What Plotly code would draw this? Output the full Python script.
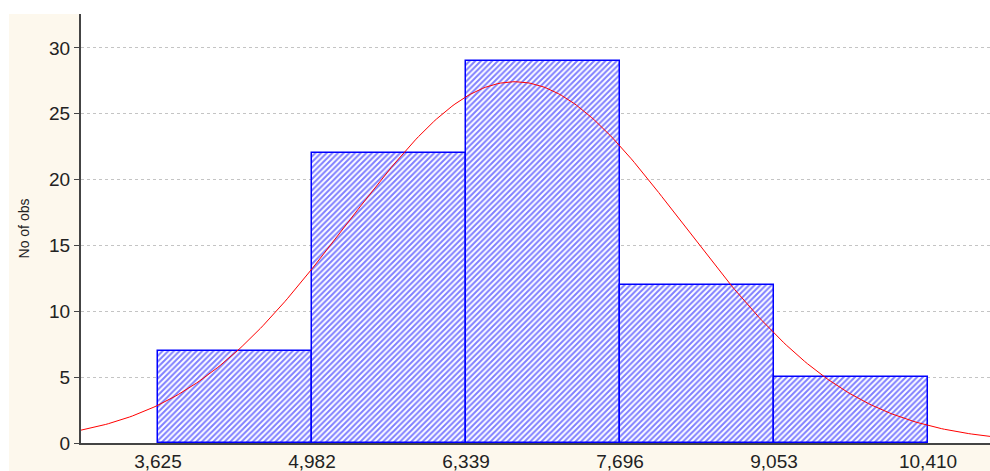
import numpy as np
import plotly.graph_objects as go

# Data
bin_edges = [3.625, 4.982, 6.339, 7.696, 9.053, 10.410]
counts = [7, 22, 29, 12, 5]
tick_labels = ["3,625", "4,982", "6,339", "7,696", "9,053", "10,410"]
# fitted normal curve parameters (expected counts)
fit_mean = 6.77
fit_sd = 1.48
n_obs = sum(counts)
bin_width = bin_edges[1] - bin_edges[0]

x_min, x_max = 2.947, 10.956

centers = [(bin_edges[i] + bin_edges[i + 1]) / 2 for i in range(len(counts))]

xs = np.linspace(x_min, x_max, 300)
ys = n_obs * bin_width / (fit_sd * np.sqrt(2 * np.pi)) * np.exp(-0.5 * ((xs - fit_mean) / fit_sd) ** 2)

cream = "#fdf8ed"

fig = go.Figure()
fig.add_trace(go.Bar(
    x=centers, y=counts, width=bin_width,
    marker=dict(color="white",
                line=dict(color="#0000ff", width=1.5),
                pattern=dict(shape="/", fgcolor="#0000ff", bgcolor="white", size=4, solidity=0.5)),
    showlegend=False, hoverinfo="skip",
))
fig.add_trace(go.Scatter(
    x=xs, y=ys, mode="lines", line=dict(color="#ff0000", width=1),
    showlegend=False, hoverinfo="skip",
))

fig.update_layout(
    width=990, height=471,
    margin=dict(l=81, r=0, t=14, b=28),
    paper_bgcolor=cream, plot_bgcolor="white",
    font=dict(family="Liberation Sans, Arial, sans-serif", color="#222222"),
    bargap=0,
    shapes=[
        dict(type="rect", xref="paper", yref="paper", x0=-0.1, x1=1.01, y0=1.0, y1=1.05,
             fillcolor="white", line=dict(width=0), layer="below"),
        dict(type="rect", xref="paper", yref="paper", x0=-0.1, x1=-0.0792, y0=-0.1, y1=1.05,
             fillcolor="white", line=dict(width=0), layer="below"),
    ],
)
fig.update_xaxes(
    range=[x_min, x_max], tickvals=bin_edges, ticktext=tick_labels,
    showgrid=False, zeroline=False, showline=True, linecolor="#444444", linewidth=2,
    ticks="", tickfont=dict(size=19, color="#222222"),
)
fig.update_yaxes(
    range=[0, 32.58], tickvals=[0, 5, 10, 15, 20, 25, 30],
    showgrid=True, gridcolor="#c4c4c4", griddash="dot", gridwidth=1,
    zeroline=False, showline=True, linecolor="#444444", linewidth=2,
    ticks="outside", ticklen=5, tickcolor="#444444",
    tickfont=dict(size=19, color="#222222"),
    title=dict(text="No of obs", font=dict(size=14, color="#222222"), standoff=16),
)

fig.write_html("out.html")
